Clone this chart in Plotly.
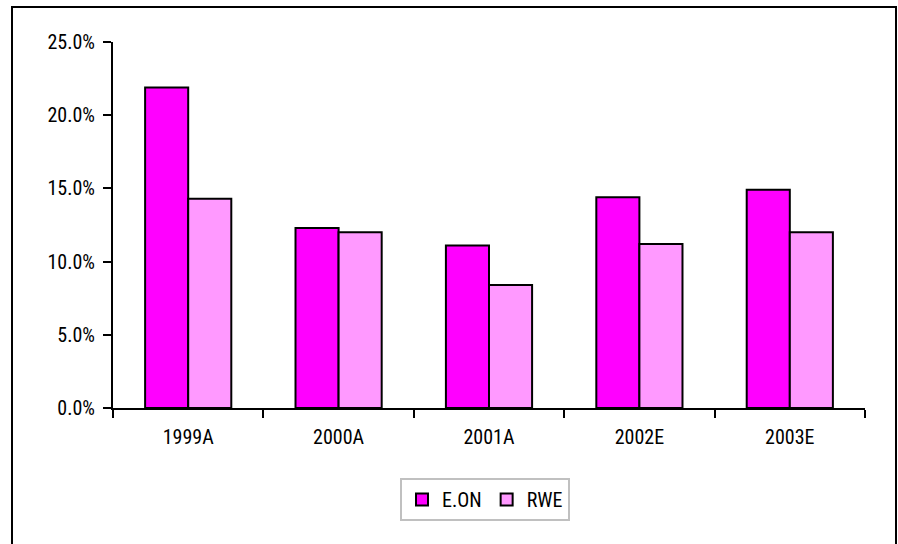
import plotly.graph_objects as go

categories = ["1999A", "2000A", "2001A", "2002E", "2003E"]
eon = [0.219, 0.123, 0.111, 0.144, 0.149]
rwe = [0.143, 0.120, 0.084, 0.112, 0.120]

font = dict(family="Liberation Sans Narrow, Arial Narrow, Roboto Condensed, Liberation Sans, sans-serif",
            size=20, color="#000000")

fig = go.Figure()
fig.add_trace(go.Bar(name="E.ON", x=categories, y=eon,
                     marker=dict(color="#FF00FF", line=dict(color="#000000", width=2))))
fig.add_trace(go.Bar(name="RWE", x=categories, y=rwe,
                     marker=dict(color="#FF99FF", line=dict(color="#000000", width=2))))

L, R, T, B = 113, 33, 42, 136
W, H = 898, 544
pw, ph = W - L - R, H - T - B

def px(x):
    return (x - L) / pw

def py(y):
    return (H - B - y) / ph

fig.update_layout(
    width=W, height=H,
    margin=dict(l=L, r=R, t=T, b=B),
    paper_bgcolor="white", plot_bgcolor="white",
    font=font,
    barmode="group", bargap=0.427, bargroupgap=0,
    showlegend=True,
    legend=dict(orientation="h", x=px(485), xanchor="center", y=py(478), yanchor="top",
                bordercolor="#C0C0C0", borderwidth=2, font=font,
                itemsizing="constant", itemwidth=30, tracegroupgap=0),
    xaxis=dict(showline=True, linecolor="black", linewidth=2, ticks="outside",
               tickson="boundaries", ticklen=8, tickwidth=2, tickcolor="black",
               showgrid=False, zeroline=False, tickfont=font, ticklabelstandoff=10),
    yaxis=dict(range=[0, 0.25], dtick=0.05, tickformat=".1%", showline=True,
               linecolor="black", linewidth=2, ticks="outside", ticklen=8, tickwidth=2,
               tickcolor="black", showgrid=False, zeroline=False, tickfont=font,
               ticklabelstandoff=4),
    shapes=[dict(type="rect", xref="paper", yref="paper",
                 x0=px(12), x1=px(896), y0=py(560), y1=py(7),
                 line=dict(color="black", width=2), fillcolor="rgba(0,0,0,0)", layer="below")],
)

fig.write_html("out.html")
